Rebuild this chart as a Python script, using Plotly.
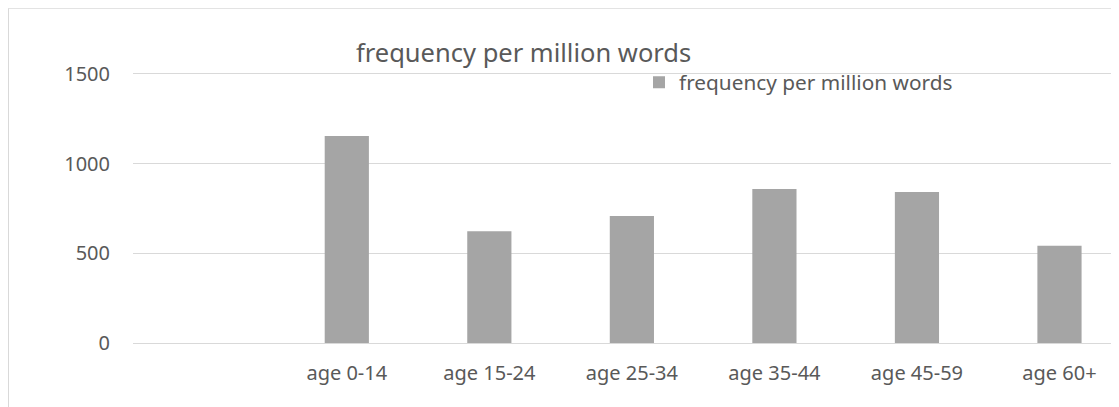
import plotly.graph_objects as go

categories = [" ", "age 0-14", "age 15-24", "age 25-34", "age 35-44", "age 45-59", "age 60+"]
values = [None, 1154, 623, 708, 858, 842, 542]
series_name = "frequency per million words"
title_text = "frequency per million words"

OFF = 8  # page body margin in the browser
W, H = 1119 - OFF, 407 - OFF
YMAX = 1510
L, R, B = 133 - OFF, 1119 - OFF, 343 - OFF
T = B - 269 * YMAX / 1500  # so that 1500 sits at reference y=74

def px_x(p):  # reference pixel -> paper
    return (p - OFF - L) / (R - L)

def px_y(p):
    return (B - (p - OFF)) / (B - T)

fig = go.Figure()
fig.add_trace(go.Bar(
    x=categories, y=values, name=series_name,
    marker=dict(color="#a5a5a5", line=dict(width=0)),
    width=0.31, showlegend=True,
))

font_family = "Noto Sans"
fig.update_layout(
    width=W, height=H,
    margin=dict(l=L, r=W - R, t=T, b=H - B, pad=0),
    paper_bgcolor="white", plot_bgcolor="white",
    font=dict(family=font_family, color="#595959", size=20),
    showlegend=True,
    legend=dict(
        x=px_x(639), y=px_y(83), xanchor="left", yanchor="middle",
        xref="paper", yref="paper", bgcolor="rgba(0,0,0,0)",
        font=dict(size=20.8, color="#595959"), itemwidth=30,
    ),
    xaxis=dict(
        type="category", categoryorder="array", categoryarray=categories,
        range=[-0.5, (1119 - 204.5) / 142.5],
        showgrid=False, showline=False, zeroline=False,
        ticks="", ticklabelstandoff=16,
        tickfont=dict(size=20, color="#595959"),
    ),
    yaxis=dict(
        range=[0, YMAX], tickvals=[0, 500, 1000, 1500],
        showgrid=True, gridcolor="#d9d9d9", gridwidth=1,
        zeroline=True, zerolinecolor="#d9d9d9", zerolinewidth=1,
        showline=False, ticks="", ticklabelstandoff=22,
        tickfont=dict(size=20, color="#595959"),
    ),
    annotations=[dict(
        text=title_text, x=px_x(523), y=px_y(52), xref="paper", yref="paper",
        xanchor="center", yanchor="middle", showarrow=False,
        font=dict(size=25.5, color="#595959", family=font_family),
    )],
    shapes=[
        dict(type="line", xref="paper", yref="paper",
             x0=px_x(8.5), x1=px_x(1130), y0=px_y(8.5), y1=px_y(8.5),
             line=dict(color="#d9d9d9", width=1)),
        dict(type="line", xref="paper", yref="paper",
             x0=px_x(8.5), x1=px_x(8.5), y0=px_y(8.5), y1=px_y(420),
             line=dict(color="#d9d9d9", width=1)),
    ],
)

fig.write_html("out.html")
